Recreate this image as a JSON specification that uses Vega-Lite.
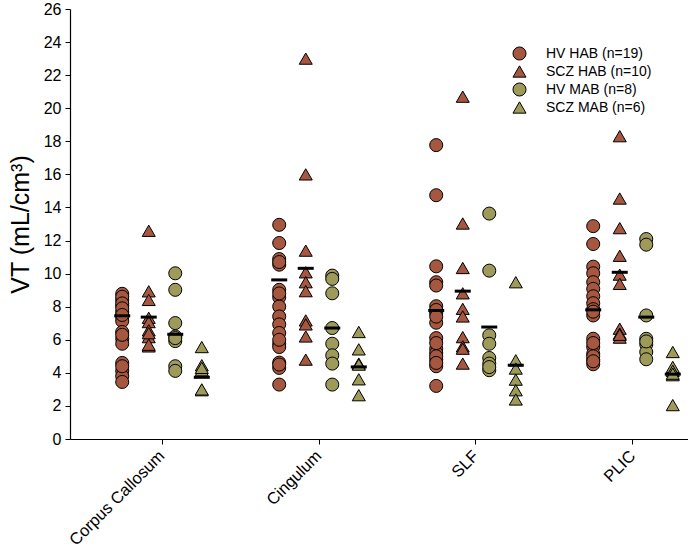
{
  "$schema": "https://vega.github.io/schema/vega-lite/v6.json",
  "autosize": {"type": "none"},
  "width": 618,
  "height": 430,
  "padding": {"left": 70, "top": 9, "right": 0, "bottom": 111},
  "background": "white",
  "config": {
    "view": {"stroke": null},
    "font": "Liberation Sans",
    "axis": {"domainColor": "black", "tickColor": "black", "labelColor": "black", "titleColor": "black", "grid": false, "labelFont": "Liberation Sans", "titleFont": "Liberation Sans"}
  },
  "datasets": {
    "points": [
      {"region": "Corpus Callosum", "group": "HV HAB (n=19)", "vt": 8.78},
      {"region": "Corpus Callosum", "group": "HV HAB (n=19)", "vt": 8.41},
      {"region": "Corpus Callosum", "group": "HV HAB (n=19)", "vt": 8.07},
      {"region": "Corpus Callosum", "group": "HV HAB (n=19)", "vt": 7.67},
      {"region": "Corpus Callosum", "group": "HV HAB (n=19)", "vt": 7.37},
      {"region": "Corpus Callosum", "group": "HV HAB (n=19)", "vt": 7.13},
      {"region": "Corpus Callosum", "group": "HV HAB (n=19)", "vt": 6.47},
      {"region": "Corpus Callosum", "group": "HV HAB (n=19)", "vt": 6.06},
      {"region": "Corpus Callosum", "group": "HV HAB (n=19)", "vt": 5.76},
      {"region": "Corpus Callosum", "group": "HV HAB (n=19)", "vt": 4.6},
      {"region": "Corpus Callosum", "group": "HV HAB (n=19)", "vt": 4.12},
      {"region": "Corpus Callosum", "group": "HV HAB (n=19)", "vt": 3.8},
      {"region": "Corpus Callosum", "group": "HV HAB (n=19)", "vt": 3.45},
      {"region": "Corpus Callosum", "group": "HV HAB (n=19)", "vt": 8.6},
      {"region": "Corpus Callosum", "group": "HV HAB (n=19)", "vt": 8.2},
      {"region": "Corpus Callosum", "group": "HV HAB (n=19)", "vt": 7.9},
      {"region": "Corpus Callosum", "group": "HV HAB (n=19)", "vt": 7.5},
      {"region": "Corpus Callosum", "group": "HV HAB (n=19)", "vt": 6.3},
      {"region": "Corpus Callosum", "group": "HV HAB (n=19)", "vt": 4.4},
      {"region": "Corpus Callosum", "group": "SCZ HAB (n=10)", "vt": 12.59},
      {"region": "Corpus Callosum", "group": "SCZ HAB (n=10)", "vt": 8.93},
      {"region": "Corpus Callosum", "group": "SCZ HAB (n=10)", "vt": 8.41},
      {"region": "Corpus Callosum", "group": "SCZ HAB (n=10)", "vt": 7.33},
      {"region": "Corpus Callosum", "group": "SCZ HAB (n=10)", "vt": 7.07},
      {"region": "Corpus Callosum", "group": "SCZ HAB (n=10)", "vt": 6.57},
      {"region": "Corpus Callosum", "group": "SCZ HAB (n=10)", "vt": 6.16},
      {"region": "Corpus Callosum", "group": "SCZ HAB (n=10)", "vt": 5.6},
      {"region": "Corpus Callosum", "group": "SCZ HAB (n=10)", "vt": 6.4},
      {"region": "Corpus Callosum", "group": "SCZ HAB (n=10)", "vt": 5.7},
      {"region": "Corpus Callosum", "group": "HV MAB (n=8)", "vt": 10.02},
      {"region": "Corpus Callosum", "group": "HV MAB (n=8)", "vt": 9.02},
      {"region": "Corpus Callosum", "group": "HV MAB (n=8)", "vt": 7.01},
      {"region": "Corpus Callosum", "group": "HV MAB (n=8)", "vt": 6.2},
      {"region": "Corpus Callosum", "group": "HV MAB (n=8)", "vt": 5.92},
      {"region": "Corpus Callosum", "group": "HV MAB (n=8)", "vt": 4.4},
      {"region": "Corpus Callosum", "group": "HV MAB (n=8)", "vt": 4.12},
      {"region": "Corpus Callosum", "group": "HV MAB (n=8)", "vt": 6.1},
      {"region": "Corpus Callosum", "group": "SCZ MAB (n=6)", "vt": 5.56},
      {"region": "Corpus Callosum", "group": "SCZ MAB (n=6)", "vt": 4.46},
      {"region": "Corpus Callosum", "group": "SCZ MAB (n=6)", "vt": 4.16},
      {"region": "Corpus Callosum", "group": "SCZ MAB (n=6)", "vt": 2.95},
      {"region": "Corpus Callosum", "group": "SCZ MAB (n=6)", "vt": 4.3},
      {"region": "Corpus Callosum", "group": "SCZ MAB (n=6)", "vt": 3.0},
      {"region": "Cingulum", "group": "HV HAB (n=19)", "vt": 12.95},
      {"region": "Cingulum", "group": "HV HAB (n=19)", "vt": 11.85},
      {"region": "Cingulum", "group": "HV HAB (n=19)", "vt": 10.88},
      {"region": "Cingulum", "group": "HV HAB (n=19)", "vt": 10.54},
      {"region": "Cingulum", "group": "HV HAB (n=19)", "vt": 9.02},
      {"region": "Cingulum", "group": "HV HAB (n=19)", "vt": 8.57},
      {"region": "Cingulum", "group": "HV HAB (n=19)", "vt": 8.01},
      {"region": "Cingulum", "group": "HV HAB (n=19)", "vt": 7.41},
      {"region": "Cingulum", "group": "HV HAB (n=19)", "vt": 6.93},
      {"region": "Cingulum", "group": "HV HAB (n=19)", "vt": 6.41},
      {"region": "Cingulum", "group": "HV HAB (n=19)", "vt": 5.76},
      {"region": "Cingulum", "group": "HV HAB (n=19)", "vt": 5.56},
      {"region": "Cingulum", "group": "HV HAB (n=19)", "vt": 4.62},
      {"region": "Cingulum", "group": "HV HAB (n=19)", "vt": 4.3},
      {"region": "Cingulum", "group": "HV HAB (n=19)", "vt": 3.29},
      {"region": "Cingulum", "group": "HV HAB (n=19)", "vt": 10.7},
      {"region": "Cingulum", "group": "HV HAB (n=19)", "vt": 8.8},
      {"region": "Cingulum", "group": "HV HAB (n=19)", "vt": 6.0},
      {"region": "Cingulum", "group": "HV HAB (n=19)", "vt": 4.5},
      {"region": "Cingulum", "group": "SCZ HAB (n=10)", "vt": 23.0},
      {"region": "Cingulum", "group": "SCZ HAB (n=10)", "vt": 16.0},
      {"region": "Cingulum", "group": "SCZ HAB (n=10)", "vt": 11.39},
      {"region": "Cingulum", "group": "SCZ HAB (n=10)", "vt": 10.08},
      {"region": "Cingulum", "group": "SCZ HAB (n=10)", "vt": 9.48},
      {"region": "Cingulum", "group": "SCZ HAB (n=10)", "vt": 8.94},
      {"region": "Cingulum", "group": "SCZ HAB (n=10)", "vt": 7.17},
      {"region": "Cingulum", "group": "SCZ HAB (n=10)", "vt": 6.93},
      {"region": "Cingulum", "group": "SCZ HAB (n=10)", "vt": 6.2},
      {"region": "Cingulum", "group": "SCZ HAB (n=10)", "vt": 4.8},
      {"region": "Cingulum", "group": "HV MAB (n=8)", "vt": 9.88},
      {"region": "Cingulum", "group": "HV MAB (n=8)", "vt": 9.68},
      {"region": "Cingulum", "group": "HV MAB (n=8)", "vt": 8.81},
      {"region": "Cingulum", "group": "HV MAB (n=8)", "vt": 6.71},
      {"region": "Cingulum", "group": "HV MAB (n=8)", "vt": 5.76},
      {"region": "Cingulum", "group": "HV MAB (n=8)", "vt": 5.06},
      {"region": "Cingulum", "group": "HV MAB (n=8)", "vt": 4.56},
      {"region": "Cingulum", "group": "HV MAB (n=8)", "vt": 3.29},
      {"region": "Cingulum", "group": "SCZ MAB (n=6)", "vt": 6.47},
      {"region": "Cingulum", "group": "SCZ MAB (n=6)", "vt": 5.42},
      {"region": "Cingulum", "group": "SCZ MAB (n=6)", "vt": 4.56},
      {"region": "Cingulum", "group": "SCZ MAB (n=6)", "vt": 3.61},
      {"region": "Cingulum", "group": "SCZ MAB (n=6)", "vt": 2.65},
      {"region": "Cingulum", "group": "SCZ MAB (n=6)", "vt": 4.5},
      {"region": "SLF", "group": "HV HAB (n=19)", "vt": 17.77},
      {"region": "SLF", "group": "HV HAB (n=19)", "vt": 14.74},
      {"region": "SLF", "group": "HV HAB (n=19)", "vt": 10.44},
      {"region": "SLF", "group": "HV HAB (n=19)", "vt": 9.48},
      {"region": "SLF", "group": "HV HAB (n=19)", "vt": 9.28},
      {"region": "SLF", "group": "HV HAB (n=19)", "vt": 8.03},
      {"region": "SLF", "group": "HV HAB (n=19)", "vt": 7.61},
      {"region": "SLF", "group": "HV HAB (n=19)", "vt": 7.03},
      {"region": "SLF", "group": "HV HAB (n=19)", "vt": 6.1},
      {"region": "SLF", "group": "HV HAB (n=19)", "vt": 5.46},
      {"region": "SLF", "group": "HV HAB (n=19)", "vt": 5.2},
      {"region": "SLF", "group": "HV HAB (n=19)", "vt": 4.8},
      {"region": "SLF", "group": "HV HAB (n=19)", "vt": 4.4},
      {"region": "SLF", "group": "HV HAB (n=19)", "vt": 3.21},
      {"region": "SLF", "group": "HV HAB (n=19)", "vt": 7.8},
      {"region": "SLF", "group": "HV HAB (n=19)", "vt": 7.4},
      {"region": "SLF", "group": "HV HAB (n=19)", "vt": 5.8},
      {"region": "SLF", "group": "HV HAB (n=19)", "vt": 5.0},
      {"region": "SLF", "group": "HV HAB (n=19)", "vt": 4.6},
      {"region": "SLF", "group": "SCZ HAB (n=10)", "vt": 20.7},
      {"region": "SLF", "group": "SCZ HAB (n=10)", "vt": 13.03},
      {"region": "SLF", "group": "SCZ HAB (n=10)", "vt": 10.34},
      {"region": "SLF", "group": "SCZ HAB (n=10)", "vt": 8.81},
      {"region": "SLF", "group": "SCZ HAB (n=10)", "vt": 7.87},
      {"region": "SLF", "group": "SCZ HAB (n=10)", "vt": 7.41},
      {"region": "SLF", "group": "SCZ HAB (n=10)", "vt": 6.16},
      {"region": "SLF", "group": "SCZ HAB (n=10)", "vt": 5.6},
      {"region": "SLF", "group": "SCZ HAB (n=10)", "vt": 5.46},
      {"region": "SLF", "group": "SCZ HAB (n=10)", "vt": 4.56},
      {"region": "SLF", "group": "HV MAB (n=8)", "vt": 13.63},
      {"region": "SLF", "group": "HV MAB (n=8)", "vt": 10.18},
      {"region": "SLF", "group": "HV MAB (n=8)", "vt": 6.27},
      {"region": "SLF", "group": "HV MAB (n=8)", "vt": 5.76},
      {"region": "SLF", "group": "HV MAB (n=8)", "vt": 4.9},
      {"region": "SLF", "group": "HV MAB (n=8)", "vt": 4.56},
      {"region": "SLF", "group": "HV MAB (n=8)", "vt": 4.16},
      {"region": "SLF", "group": "HV MAB (n=8)", "vt": 4.35},
      {"region": "SLF", "group": "SCZ MAB (n=6)", "vt": 9.48},
      {"region": "SLF", "group": "SCZ MAB (n=6)", "vt": 4.76},
      {"region": "SLF", "group": "SCZ MAB (n=6)", "vt": 4.26},
      {"region": "SLF", "group": "SCZ MAB (n=6)", "vt": 3.59},
      {"region": "SLF", "group": "SCZ MAB (n=6)", "vt": 2.95},
      {"region": "SLF", "group": "SCZ MAB (n=6)", "vt": 2.39},
      {"region": "PLIC", "group": "HV HAB (n=19)", "vt": 12.87},
      {"region": "PLIC", "group": "HV HAB (n=19)", "vt": 11.79},
      {"region": "PLIC", "group": "HV HAB (n=19)", "vt": 10.42},
      {"region": "PLIC", "group": "HV HAB (n=19)", "vt": 10.02},
      {"region": "PLIC", "group": "HV HAB (n=19)", "vt": 9.48},
      {"region": "PLIC", "group": "HV HAB (n=19)", "vt": 9.08},
      {"region": "PLIC", "group": "HV HAB (n=19)", "vt": 8.63},
      {"region": "PLIC", "group": "HV HAB (n=19)", "vt": 8.21},
      {"region": "PLIC", "group": "HV HAB (n=19)", "vt": 7.85},
      {"region": "PLIC", "group": "HV HAB (n=19)", "vt": 7.47},
      {"region": "PLIC", "group": "HV HAB (n=19)", "vt": 6.06},
      {"region": "PLIC", "group": "HV HAB (n=19)", "vt": 5.56},
      {"region": "PLIC", "group": "HV HAB (n=19)", "vt": 5.16},
      {"region": "PLIC", "group": "HV HAB (n=19)", "vt": 4.8},
      {"region": "PLIC", "group": "HV HAB (n=19)", "vt": 4.52},
      {"region": "PLIC", "group": "HV HAB (n=19)", "vt": 7.7},
      {"region": "PLIC", "group": "HV HAB (n=19)", "vt": 5.8},
      {"region": "PLIC", "group": "HV HAB (n=19)", "vt": 5.0},
      {"region": "PLIC", "group": "HV HAB (n=19)", "vt": 4.7},
      {"region": "PLIC", "group": "SCZ HAB (n=10)", "vt": 18.31},
      {"region": "PLIC", "group": "SCZ HAB (n=10)", "vt": 14.54},
      {"region": "PLIC", "group": "SCZ HAB (n=10)", "vt": 12.75},
      {"region": "PLIC", "group": "SCZ HAB (n=10)", "vt": 11.08},
      {"region": "PLIC", "group": "SCZ HAB (n=10)", "vt": 9.94},
      {"region": "PLIC", "group": "SCZ HAB (n=10)", "vt": 9.38},
      {"region": "PLIC", "group": "SCZ HAB (n=10)", "vt": 6.67},
      {"region": "PLIC", "group": "SCZ HAB (n=10)", "vt": 6.37},
      {"region": "PLIC", "group": "SCZ HAB (n=10)", "vt": 6.13},
      {"region": "PLIC", "group": "SCZ HAB (n=10)", "vt": 6.3},
      {"region": "PLIC", "group": "HV MAB (n=8)", "vt": 12.09},
      {"region": "PLIC", "group": "HV MAB (n=8)", "vt": 11.75},
      {"region": "PLIC", "group": "HV MAB (n=8)", "vt": 7.47},
      {"region": "PLIC", "group": "HV MAB (n=8)", "vt": 6.06},
      {"region": "PLIC", "group": "HV MAB (n=8)", "vt": 5.72},
      {"region": "PLIC", "group": "HV MAB (n=8)", "vt": 5.26},
      {"region": "PLIC", "group": "HV MAB (n=8)", "vt": 4.82},
      {"region": "PLIC", "group": "HV MAB (n=8)", "vt": 5.9},
      {"region": "PLIC", "group": "SCZ MAB (n=6)", "vt": 5.26},
      {"region": "PLIC", "group": "SCZ MAB (n=6)", "vt": 4.36},
      {"region": "PLIC", "group": "SCZ MAB (n=6)", "vt": 4.12},
      {"region": "PLIC", "group": "SCZ MAB (n=6)", "vt": 3.86},
      {"region": "PLIC", "group": "SCZ MAB (n=6)", "vt": 2.05},
      {"region": "PLIC", "group": "SCZ MAB (n=6)", "vt": 3.95}
    ],
    "means": [
      {"region": "Corpus Callosum", "group": "HV HAB (n=19)", "vt": 7.45},
      {"region": "Corpus Callosum", "group": "SCZ HAB (n=10)", "vt": 7.37},
      {"region": "Corpus Callosum", "group": "HV MAB (n=8)", "vt": 6.33},
      {"region": "Corpus Callosum", "group": "SCZ MAB (n=6)", "vt": 3.73},
      {"region": "Cingulum", "group": "HV HAB (n=19)", "vt": 9.62},
      {"region": "Cingulum", "group": "SCZ HAB (n=10)", "vt": 10.32},
      {"region": "Cingulum", "group": "HV MAB (n=8)", "vt": 6.71},
      {"region": "Cingulum", "group": "SCZ MAB (n=6)", "vt": 4.36},
      {"region": "SLF", "group": "HV HAB (n=19)", "vt": 7.77},
      {"region": "SLF", "group": "SCZ HAB (n=10)", "vt": 8.94},
      {"region": "SLF", "group": "HV MAB (n=8)", "vt": 6.77},
      {"region": "SLF", "group": "SCZ MAB (n=6)", "vt": 4.46},
      {"region": "PLIC", "group": "HV HAB (n=19)", "vt": 7.81},
      {"region": "PLIC", "group": "SCZ HAB (n=10)", "vt": 10.08},
      {"region": "PLIC", "group": "HV MAB (n=8)", "vt": 7.37},
      {"region": "PLIC", "group": "SCZ MAB (n=6)", "vt": 3.92}
    ]
  },
  "encoding": {
    "x": {
      "field": "region", "type": "nominal",
      "sort": ["Corpus Callosum", "Cingulum", "SLF", "PLIC"],
      "scale": {"type": "band", "paddingInner": 0, "paddingOuter": 0.086, "range": [0, 655]},
      "axis": {"title": null, "labelAngle": -45, "labelAlign": "right", "labelBaseline": "middle", "labelFontSize": 16.5, "labelPadding": 9, "tickSize": 5, "domainWidth": 1.2}
    },
    "xOffset": {
      "field": "group", "type": "nominal",
      "sort": ["HV HAB (n=19)", "SCZ HAB (n=10)", "HV MAB (n=8)", "SCZ MAB (n=6)"],
      "scale": {"type": "band", "paddingInner": 0, "paddingOuter": 0.96}
    },
    "y": {
      "field": "vt", "type": "quantitative",
      "scale": {"domain": [0, 26], "nice": false, "zero": true},
      "axis": {"title": "VT (mL/cm³)", "titleFontSize": 25, "titleFontWeight": "normal", "titlePadding": 10, "values": [0, 2, 4, 6, 8, 10, 12, 14, 16, 18, 20, 22, 24, 26], "labelFontSize": 16, "labelPadding": 4, "tickSize": 5, "domainWidth": 1.2}
    }
  },
  "layer": [
    {
      "data": {"name": "points"},
      "mark": {"type": "point", "filled": true, "stroke": "black", "strokeWidth": 1, "opacity": 1, "size": 170},
      "encoding": {
        "color": {
          "field": "group", "type": "nominal",
          "scale": {"domain": ["HV HAB (n=19)", "SCZ HAB (n=10)", "HV MAB (n=8)", "SCZ MAB (n=6)"], "range": ["#A5573F", "#A5573F", "#9E9A5A", "#9E9A5A"]},
          "legend": {"title": null, "orient": "none", "legendX": 442, "legendY": 37, "labelFontSize": 14, "labelOffset": 19, "rowPadding": 0, "symbolSize": 170, "symbolStrokeColor": "black", "symbolStrokeWidth": 1, "labelColor": "black"}
        },
        "shape": {
          "field": "group", "type": "nominal",
          "scale": {"domain": ["HV HAB (n=19)", "SCZ HAB (n=10)", "HV MAB (n=8)", "SCZ MAB (n=6)"], "range": ["circle", "triangle-up", "circle", "triangle-up"]},
          "legend": {"title": null, "orient": "none", "legendX": 442, "legendY": 37, "labelFontSize": 14, "labelOffset": 19, "rowPadding": 0, "symbolSize": 170, "symbolStrokeColor": "black", "symbolStrokeWidth": 1, "labelColor": "black"}
        }
      }
    },
    {
      "data": {"name": "means"},
      "mark": {"type": "tick", "color": "black", "size": 16, "thickness": 3, "opacity": 1},
      "encoding": {}
    }
  ]
}
